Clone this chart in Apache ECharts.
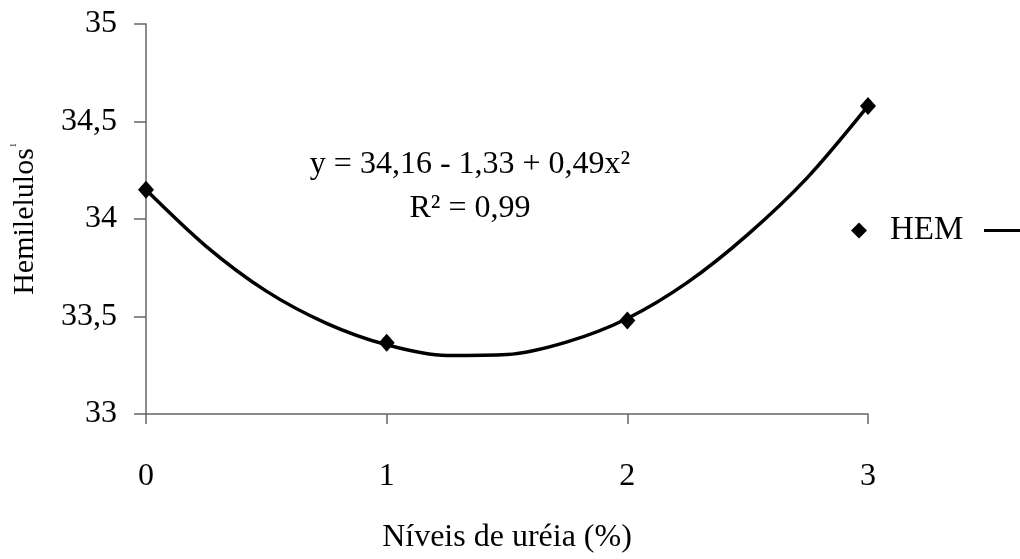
<!DOCTYPE html>
<html>
<head>
<meta charset="utf-8">
<script src="https://cdn.jsdelivr.net/npm/echarts@6/dist/echarts.min.js"></script>
<style>
html,body{margin:0;padding:0;background:#fff;}
#chart{width:1020px;height:559px;}
</style>
</head>
<body>
<div id="chart"></div>
<script>
// Observed data (HEM)
const ureaLevels = [0, 1, 2, 3];
const hemValues = [34.15, 33.365, 33.48, 34.58];
// Trendline at regular x positions
const trendX = [0, 0.25, 0.5, 0.75, 1.0, 1.25, 1.5, 1.75, 2.0, 2.25, 2.5, 2.75, 3.0];
const trendY = [34.15, 33.86, 33.63, 33.465, 33.355, 33.30, 33.305, 33.37, 33.49, 33.675, 33.92, 34.215, 34.58];
// Text
const xTitle = 'Níveis de uréia (%)';
const yTitle = 'Hemilelulos';
const yTitleMark = '1';
const seriesName = 'HEM';
const trendName = 'Polinômio (HEM)';
const eqLine1 = 'y = 34,16 - 1,33 + 0,49x²';
const eqLine2 = 'R² = 0,99';
const xTicks = [0, 1, 2, 3];
const yTicks = [33, 33.5, 34, 34.5, 35];

const FONT = '"Liberation Serif", "Times New Roman", serif';
const chart = echarts.init(document.getElementById('chart'), null, {renderer: 'canvas'});

const axisColor = '#666666';

chart.setOption({
  backgroundColor: '#ffffff',
  animation: false,
  textStyle: {fontFamily: FONT, color: '#000'},
  grid: {left: 146, right: 152, top: 24, bottom: 134, containLabel: false},
  xAxis: {
    type: 'value',
    min: xTicks[0], max: xTicks[xTicks.length - 1], interval: 1,
    name: xTitle, nameLocation: 'middle', nameGap: 108,
    nameTextStyle: {fontFamily: FONT, fontSize: 32, color: '#000'},
    axisLine: {show: true, lineStyle: {color: axisColor, width: 1.5}},
    axisTick: {show: true, inside: false, length: 10, lineStyle: {color: axisColor, width: 1.5}},
    axisLabel: {margin: 47, fontFamily: FONT, fontSize: 32, color: '#000',
      formatter: v => String(v).replace('.', ',')},
    splitLine: {show: false}
  },
  yAxis: {
    type: 'value',
    min: yTicks[0], max: yTicks[yTicks.length - 1], interval: 0.5,
    name: '{a|' + yTitle + '}{b|' + yTitleMark + '}', nameLocation: 'middle', nameGap: 106, nameRotate: 90,
    nameTextStyle: {fontFamily: FONT, fontSize: 30, color: '#000',
      rich: {a: {fontFamily: FONT, fontSize: 30, color: '#000'},
             b: {fontFamily: FONT, fontSize: 8, color: '#000', verticalAlign: 'top', padding: [0, 0, 14, 1]}}},
    axisLine: {show: true, lineStyle: {color: axisColor, width: 1.5}},
    axisTick: {show: true, inside: false, length: 12, lineStyle: {color: axisColor, width: 1.5}},
    axisLabel: {margin: 29, fontFamily: FONT, fontSize: 32, color: '#000',
      formatter: v => String(v).replace('.', ',')},
    splitLine: {show: false}
  },
  legend: [
    {
      data: [{name: seriesName, icon: 'diamond'}], left: 846, top: 209, orient: 'horizontal',
      itemWidth: 16, itemHeight: 16,
      formatter: n => '{t|' + n + '}',
      textStyle: {fontFamily: FONT, fontSize: 33, color: '#000',
        rich: {t: {fontFamily: FONT, fontSize: 33, color: '#000', padding: [0, 0, 0, 18]}}}
    },
    {
      data: [{name: trendName, icon: 'rect'}], left: 979, top: 224, orient: 'horizontal',
      itemWidth: 50, itemHeight: 3,
      formatter: () => '',
      textStyle: {fontFamily: FONT, fontSize: 2, color: '#000'}
    }
  ],
  series: [
    {
      name: trendName, type: 'line',
      data: trendX.map((x, i) => [x, trendY[i]]),
      smooth: 0.3, showSymbol: false, symbol: 'none',
      lineStyle: {color: '#000', width: 3.5},
      itemStyle: {color: '#000', opacity: 1},
      z: 2
    },
    {
      name: seriesName, type: 'scatter',
      data: ureaLevels.map((x, i) => [x, hemValues[i]]),
      symbol: 'diamond', symbolSize: [16, 18],
      itemStyle: {color: '#000', opacity: 1},
      z: 3
    }
  ],
  graphic: [
    {
      type: 'text', x: 470, y: 165,
      style: {text: eqLine1, font: '32px ' + FONT, fill: '#000', textAlign: 'center', textVerticalAlign: 'middle'}
    },
    {
      type: 'text', x: 470, y: 209,
      style: {text: eqLine2, font: '32px ' + FONT, fill: '#000', textAlign: 'center', textVerticalAlign: 'middle'}
    }
  ]
});
</script>
</body>
</html>
